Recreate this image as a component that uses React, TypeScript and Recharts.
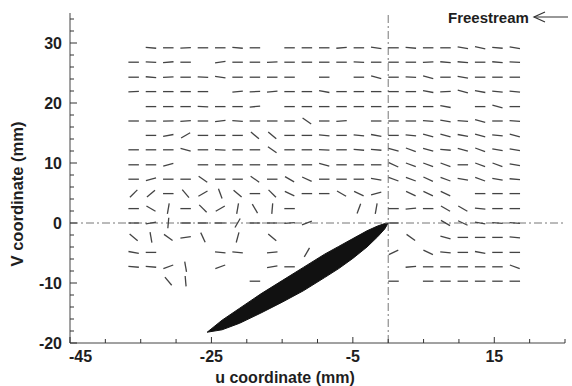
import { ComposedChart, XAxis, YAxis, Scatter, Area, ReferenceLine, Customized } from 'recharts'

// measurement grid (mm): column centres and row heights
const gridU = [-36.0, -33.55, -31.1, -28.65, -26.2, -23.75, -21.3, -18.85, -16.4, -13.95, -11.5, -9.05, -6.6, -4.15, -1.7, 0.75, 3.2, 5.65, 8.1, 10.55, 13.0, 15.45, 17.9]
const gridV = [29.2, 26.8, 24.3, 21.9, 19.4, 17.0, 14.6, 12.2, 9.7, 7.3, 4.9, 2.4, 0, -2.4, -4.9, -7.3, -9.7]

const N = null
// vector direction (deg, on screen) per row, one entry per column; null = no vector
const vectorAngles: (number | null)[][] = [
  [N, -5, 0, 3, 0, 0, -5, 0, N, 0, 0, 0, 5, 0, -8, 0, -5, 0, 0, -10, -12, -5, -10],
  [0, -3, 5, 0, N, 8, 0, 0, 3, 0, 0, 0, 0, -3, 0, 0, 0, 3, -5, -5, 0, -5, -3],
  [0, -5, 3, 0, -3, -8, 0, 0, 0, 0, N, 0, N, 0, -15, 0, -3, -15, 0, -10, 0, 0, 0],
  [3, 0, 0, 0, 0, N, 5, 3, 5, 0, 0, -10, 0, 0, 0, 0, 0, -10, 3, -15, -10, -5, -5],
  [N, 0, 0, 0, -3, 0, 0, 5, N, 0, 0, 0, 0, 0, 0, 0, 0, 0, -10, N, 0, -15, 0],
  [0, 0, 2, 3, 0, 8, -3, 0, 0, 0, -35, 0, 5, N, 0, 0, 0, -5, -10, -5, -15, 0, -5],
  [N, 0, 10, 30, 0, 0, 0, -40, -40, 0, 0, -5, 0, -5, -10, 0, -5, -15, -15, -10, -15, -5, -15],
  [0, 0, 0, -15, 0, -3, 0, 0, -35, 0, 0, -3, 0, -5, -5, -15, -20, -15, -5, -15, -20, -10, -10],
  [0, 0, 15, N, 0, 0, 0, 0, 0, 0, 0, -15, 0, 0, 0, -25, -20, -20, -20, 0, -20, -20, -10],
  [0, 15, 0, 0, -35, 0, 0, -35, 0, -30, -25, 0, 0, 0, -10, -20, -20, -25, -20, -10, -20, -10, -5],
  [45, 40, 0, -50, 30, -70, -40, 0, -45, -25, 0, 0, -30, -25, 15, N, -25, -25, -25, N, 0, 0, 0],
  [0, -30, 80, 0, -45, 30, 80, -60, 85, 0, N, N, N, 70, 80, 0, 5, 0, -30, -30, -5, 0, 0],
  [0, 10, 85, 0, 0, 0, 60, 0, 0, 5, 20, N, N, N, N, 0, N, N, -30, -25, -10, -5, -5],
  [-40, -80, -35, 8, -65, N, 75, N, -40, N, N, N, N, N, N, N, -35, N, -15, 0, 0, 0, -5],
  [-10, 0, N, N, N, -5, -5, N, 5, N, 60, N, N, N, N, 25, N, -25, -5, 0, -10, 0, 0],
  [-5, -5, 20, -80, N, 20, N, N, 10, 0, N, N, N, N, N, N, 5, 0, 0, 0, 0, 0, -20],
  [N, N, -50, -85, N, N, N, 0, N, N, N, N, N, N, N, 0, N, 0, 0, 0, 0, 0, 0],
]

// airfoil outline (mm)
const airfoilU = [-25.6, -23.5, -21, -18, -15, -12, -9, -7, -5, -3, -1.5, -0.5, 0]
const airfoilUpper = [-18.2, -16.2, -14.2, -11.8, -9.6, -7.4, -5.2, -3.9, -2.6, -1.3, -0.5, -0.1, 0]
const airfoilLower = [-18.2, -17.8, -16.7, -15.0, -13.2, -11.3, -9.1, -7.6, -5.9, -4.0, -2.3, -1.0, 0]

const uTicks = [-45, -40, -35, -30, -25, -20, -15, -10, -5, 0, 5, 10, 15, 20, 25]
const uLabels = [-45, -25, -5, 15]
const vTicks = [-20, -18, -16, -14, -12, -10, -8, -6, -4, -2, 0, 2, 4, 6, 8, 10, 12, 14, 16, 18, 20, 22, 24, 26, 28, 30, 32, 34]
const vLabels = [-20, -10, 0, 10, 20, 30]

const vectors = vectorAngles.flatMap((row, i) =>
  row.flatMap((a, j) => (a === null ? [] : [{ x: gridU[j], y: gridV[i], a }]))
)
const airfoil = airfoilU.map((x, i) => ({ x, band: [airfoilLower[i], airfoilUpper[i]] }))

const FONT = '"Liberation Sans", Arial, Helvetica, sans-serif'
const INK = '#1e1e1e'
const SEG = 10.5

const Segment = (props: any) => {
  const { cx, cy, payload } = props
  const r = (payload.a * Math.PI) / 180
  const dx = (SEG / 2) * Math.cos(r)
  const dy = (SEG / 2) * Math.sin(r)
  return <line x1={cx - dx} y1={cy + dy} x2={cx + dx} y2={cy - dy} stroke="#444" strokeWidth={1.3} />
}

const UTick = (props: any) => {
  const { x, y, payload } = props
  const major = uLabels.includes(payload.value)
  const first = payload.value === -45
  return (
    <g>
      <line x1={x} x2={x} y1={y} y2={y - (major ? 6 : 4)} stroke="#333" />
      {major && (
        <text x={first ? x - 1 : x} y={y + 19} textAnchor={first ? 'start' : 'middle'} fontFamily={FONT} fontWeight="bold" fontSize={16} fill={INK}>
          {payload.value}
        </text>
      )}
    </g>
  )
}

const VTick = (props: any) => {
  const { x, y, payload } = props
  const major = vLabels.includes(payload.value)
  return (
    <g>
      <line x1={x} x2={x + (major ? 7 : 4)} y1={y} y2={y} stroke="#333" />
      {major && (
        <text x={x - 8} y={y + 6} textAnchor="end" fontFamily={FONT} fontWeight="bold" fontSize={16} fill={INK}>
          {payload.value}
        </text>
      )}
    </g>
  )
}

const Titles = () => (
  <g fontFamily={FONT} fontWeight="bold" fill={INK}>
    <text x={285} y={383} textAnchor="middle" fontSize={16}>u coordinate (mm)</text>
    <text x={23} y={194} textAnchor="middle" fontSize={16.5} transform="rotate(-90 23 194)">V coordinate (mm)</text>
    <text x={448} y={23} fontSize={15}>Freestream</text>
    <line x1={534} y1={17} x2={568} y2={17} stroke="#333" strokeWidth={1.2} />
    <polyline points="545,12 534,17 545,22" fill="none" stroke="#333" strokeWidth={1.2} />
  </g>
)

export default function App() {
  return (
    <div style={{ position: 'absolute', left: 0, top: 0, width: 572, height: 386, background: '#fff' }}>
      <ComposedChart width={572} height={386} margin={{ top: 13, right: 7, bottom: 0, left: 0 }}>
        <XAxis
          type="number"
          dataKey="x"
          domain={[-45, 25]}
          ticks={uTicks}
          interval={0}
          allowDataOverflow
          height={43}
          tickSize={0}
          tickMargin={0}
          tick={UTick}
          axisLine={{ stroke: '#444' }}
        />
        <YAxis
          type="number"
          dataKey="y"
          domain={[-20, 35]}
          ticks={vTicks}
          interval={0}
          allowDataOverflow
          width={70}
          tickSize={0}
          tickMargin={0}
          tick={VTick}
          axisLine={{ stroke: '#444' }}
        />
        <ReferenceLine x={0} stroke="#777" strokeDasharray="8 3 2 3" />
        <ReferenceLine y={0} stroke="#777" strokeDasharray="8 3 2 3" />
        <Area
          data={airfoil}
          dataKey="band"
          type="linear"
          fill="#111"
          fillOpacity={1}
          stroke="#111"
          isAnimationActive={false}
        />
        <Scatter data={vectors} shape={Segment} isAnimationActive={false} />
        <Customized component={Titles} />
      </ComposedChart>
    </div>
  )
}
